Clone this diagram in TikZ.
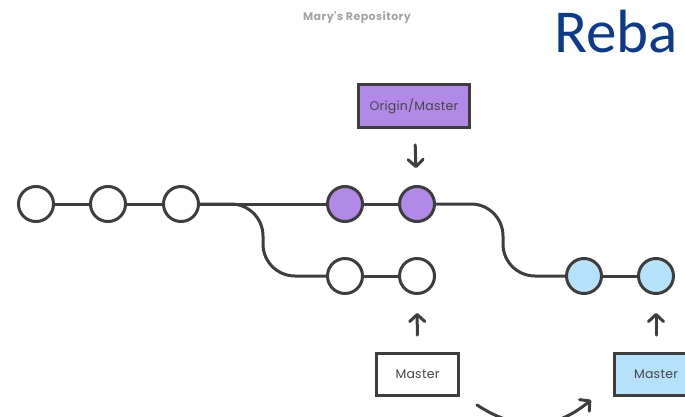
\documentclass[tikz,border=0pt]{standalone}
\usepackage{fontspec}
\setmainfont{Poppins}
\newfontfamily\labelfont[LetterSpace=2]{Poppins}
\newfontfamily\headfont[LetterSpace=4]{Poppins}
\newfontfamily\titlefont{Carlito}
\usetikzlibrary{arrows.meta}
\definecolor{ink}{HTML}{3E3E3E}
\definecolor{labelgray}{HTML}{45454C}
\definecolor{headgray}{HTML}{A3A3A3}
\definecolor{purplefill}{HTML}{B08AE6}
\definecolor{bluefill}{HTML}{B5E1FA}
\definecolor{titleblue}{HTML}{0B3A8F}
\tikzset{
  commit/.style={circle, draw=ink, line width=3pt, minimum size=35pt, inner sep=0pt, fill=white},
  branchbox/.style={draw=ink, line width=2.8pt, inner sep=0pt, text=labelgray,
    font=\labelfont\fontsize{12.5}{14}\selectfont},
  link/.style={draw=ink, line width=3pt},
  pointer/.style={draw=ink, line width=3pt, line cap=round,
    -{Straight Barb[length=7pt,width=15pt,line cap=round,line join=round]}},
}
\begin{document}
\begin{tikzpicture}[x=1pt,y=-1pt]
  \useasboundingbox (0,0) rectangle (685,417);
  \clip (0,0) rectangle (685,417);

  % headings
  \node[text=headgray, font=\headfont\bfseries\fontsize{11}{13}\selectfont] (repo) at (357,18) {Mary's Repository};
  \node[text=titleblue, font=\titlefont\fontsize{61}{70}\selectfont, anchor=base west, inner sep=0pt] (title) at (554,53) {Reba};

  % commits
  \node[commit] (c1) at (36,204) {};
  \node[commit] (c2) at (108,204) {};
  \node[commit] (c3) at (181,204) {};
  \node[commit, fill=purplefill] (p1) at (345,204) {};
  \node[commit, fill=purplefill] (p2) at (417,204) {};
  \node[commit] (l1) at (345,276) {};
  \node[commit] (l2) at (417,276) {};
  \node[commit, fill=bluefill] (b1) at (584,276) {};
  \node[commit, fill=bluefill] (b2) at (656,276) {};

  % history lines
  \draw[link] (c1) -- (c2);
  \draw[link] (c2) -- (c3);
  \draw[link] (c3) -- (p1);
  \draw[link] (p1) -- (p2);
  \draw[link] (l1) -- (l2);
  \draw[link] (b1) -- (b2);
  \draw[link, rounded corners=32pt] (c3.east) -- (263,204) -- (263,276) -- (l1.west);
  \draw[link, rounded corners=32pt] (p2.east) -- (503,204) -- (503,276) -- (b1.west);

  % branch labels
  \node[branchbox, fill=purplefill, minimum width=111pt, minimum height=43pt] (om) at (414,106) {Origin/Master};
  \node[branchbox, fill=white, minimum width=82pt, minimum height=42pt] (ml) at (417.5,374.5) {Master};
  \node[branchbox, fill=bluefill, minimum width=83pt, minimum height=42pt] (mr) at (656,374.5) {Master};

  % pointers
  \draw[pointer, shorten <=16pt, shorten >=17pt] (om) -- (p2);
  \draw[pointer, shorten <=17pt, shorten >=18pt] (ml) -- (l2);
  \draw[pointer, shorten <=17pt, shorten >=18pt] (mr) -- (b2);

  % rebase move
  \coordinate (from) at (477,405);
  \coordinate (to) at (591,400);
  \draw[pointer] (from) .. controls (520,433) and (556,429) .. (to);
\end{tikzpicture}
\end{document}
